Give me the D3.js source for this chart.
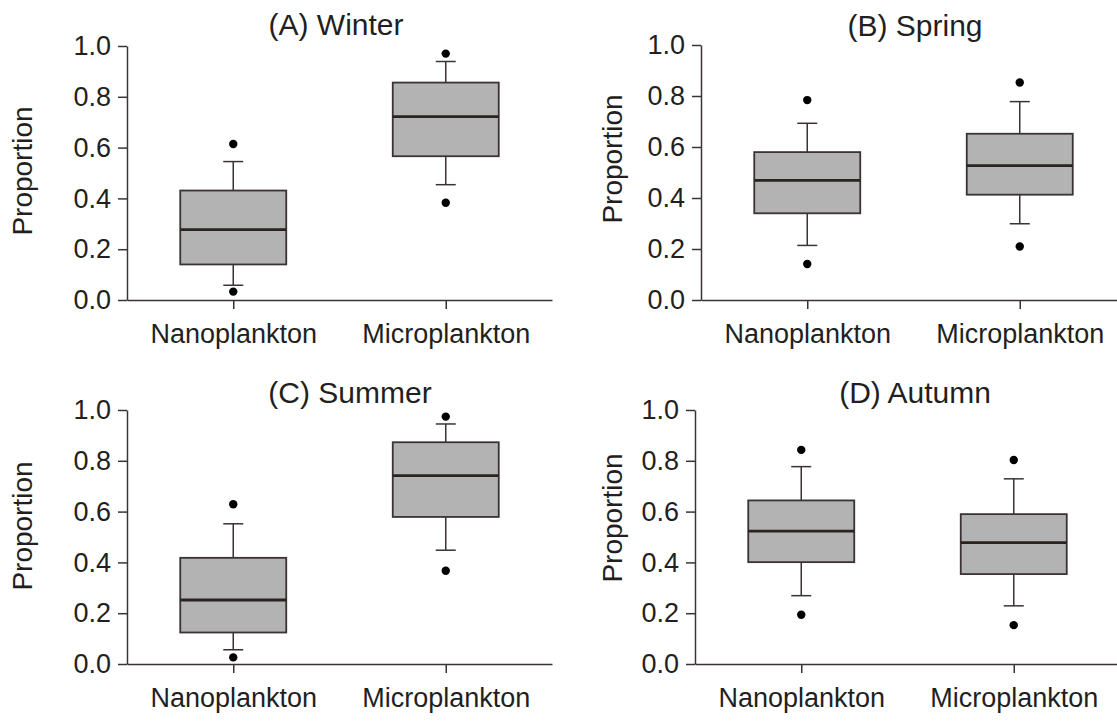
<!DOCTYPE html>
<html>
<head>
  <meta charset="utf-8">
  <title>Plankton size fraction by season</title>
  <style>
    body { margin: 0; background: #fff; }
    text { font-family: "Liberation Sans", Arial, Helvetica, sans-serif; fill: #231f20; }
  </style>
</head>
<body>
  <script src="https://cdn.jsdelivr.net/npm/d3@7"></script>
  <script>

// data
var seasons = ["(A) Winter", "(B) Spring", "(C) Summer", "(D) Autumn"];
var groups = ["Nanoplankton", "Microplankton"];
var yTicks = [0, 0.2, 0.4, 0.6, 0.8, 1.0];

// [nano, micro] per season
var whiskerLow  = [[0.058, 0.454], [0.214, 0.299], [0.056, 0.448], [0.269, 0.229]];
var q1          = [[0.140, 0.566], [0.340, 0.413], [0.124, 0.579], [0.401, 0.354]];
var median      = [[0.277, 0.722], [0.469, 0.527], [0.252, 0.742], [0.523, 0.478]];
var q3          = [[0.431, 0.856], [0.580, 0.652], [0.418, 0.873], [0.644, 0.590]];
var whiskerHigh = [[0.545, 0.939], [0.693, 0.778], [0.552, 0.945], [0.777, 0.729]];
var outlierLow  = [[0.033, 0.383], [0.141, 0.210], [0.026, 0.367], [0.194, 0.153]];
var outlierHigh = [[0.614, 0.970], [0.784, 0.853], [0.629, 0.974], [0.843, 0.803]];

// panel placement
var layout = [
  {x: 127, top: 46,  bottom: 300, titleX: 336, titleY: 35,  labelX: 32,  labelY: 171},
  {x: 701, top: 45,  bottom: 300, titleX: 915, titleY: 36,  labelX: 622, labelY: 159},
  {x: 127, top: 410, bottom: 664, titleX: 350, titleY: 403, labelX: 32,  labelY: 526},
  {x: 695, top: 410, bottom: 664, titleX: 915, titleY: 403, labelX: 622, labelY: 518}
];

var axisW = 425,
    boxW = 106,
    capW = 20,
    ink = "#3b3333";

var svg = d3.select("body")
    .append("svg")
    .attr("width", 1117)
    .attr("height", 721);

seasons.forEach(function(title, i) {
  var L = layout[i];

  var x = d3.scalePoint()
      .domain(groups)
      .range([0, axisW])
      .padding(0.5);

  var y = d3.scaleLinear()
      .domain([0, 1])
      .range([L.bottom - L.top, 0]);

  var g = svg.append("g")
      .attr("transform", "translate(" + L.x + "," + L.top + ")");

  // boxes
  groups.forEach(function(name, j) {
    var cx = x(name);

    g.append("line")
        .attr("x1", cx).attr("x2", cx)
        .attr("y1", y(q3[i][j])).attr("y2", y(whiskerHigh[i][j]))
        .attr("stroke", ink).attr("stroke-width", 1.5);
    g.append("line")
        .attr("x1", cx).attr("x2", cx)
        .attr("y1", y(q1[i][j])).attr("y2", y(whiskerLow[i][j]))
        .attr("stroke", ink).attr("stroke-width", 1.5);

    [whiskerHigh[i][j], whiskerLow[i][j]].forEach(function(v) {
      g.append("line")
          .attr("x1", cx - capW / 2).attr("x2", cx + capW / 2)
          .attr("y1", y(v)).attr("y2", y(v))
          .attr("stroke", ink).attr("stroke-width", 1.5);
    });

    g.append("rect")
        .attr("x", cx - boxW / 2)
        .attr("y", y(q3[i][j]))
        .attr("width", boxW)
        .attr("height", y(q1[i][j]) - y(q3[i][j]))
        .attr("fill", "#b3b3b3")
        .attr("stroke", ink)
        .attr("stroke-width", 1.8);

    g.append("line")
        .attr("x1", cx - boxW / 2).attr("x2", cx + boxW / 2)
        .attr("y1", y(median[i][j])).attr("y2", y(median[i][j]))
        .attr("stroke", "#2b2222").attr("stroke-width", 2.8);

    g.selectAll(null)
        .data([outlierLow[i][j], outlierHigh[i][j]])
        .enter().append("circle")
        .attr("cx", cx)
        .attr("cy", function(d) { return y(d); })
        .attr("r", 4.2)
        .attr("fill", "#000");
  });

  // axes
  var ya = g.append("g")
      .call(d3.axisLeft(y)
        .tickValues(yTicks)
        .tickFormat(d3.format(".1f"))
        .tickSize(9)
        .tickSizeOuter(0)
        .tickPadding(7));

  var xa = g.append("g")
      .attr("transform", "translate(0," + y(0) + ")")
      .call(d3.axisBottom(x)
        .tickSize(9)
        .tickSizeOuter(0)
        .tickPadding(15));

  [ya, xa].forEach(function(a) {
    a.select(".domain").attr("stroke", ink).attr("stroke-width", 1.5);
    a.selectAll(".tick line").attr("stroke", ink).attr("stroke-width", 1.5);
    a.selectAll(".tick text")
        .style("font-family", "'Liberation Sans', Arial, sans-serif")
        .style("font-size", "27px")
        .attr("fill", "#231f20");
  });

  svg.append("text")
      .attr("x", L.titleX)
      .attr("y", L.titleY)
      .attr("text-anchor", "middle")
      .style("font-size", "30px")
      .text(title);

  svg.append("text")
      .attr("transform", "translate(" + L.labelX + "," + L.labelY + ") rotate(-90)")
      .attr("text-anchor", "middle")
      .style("font-size", "28px")
      .text("Proportion");
});

  </script>
</body>
</html>
